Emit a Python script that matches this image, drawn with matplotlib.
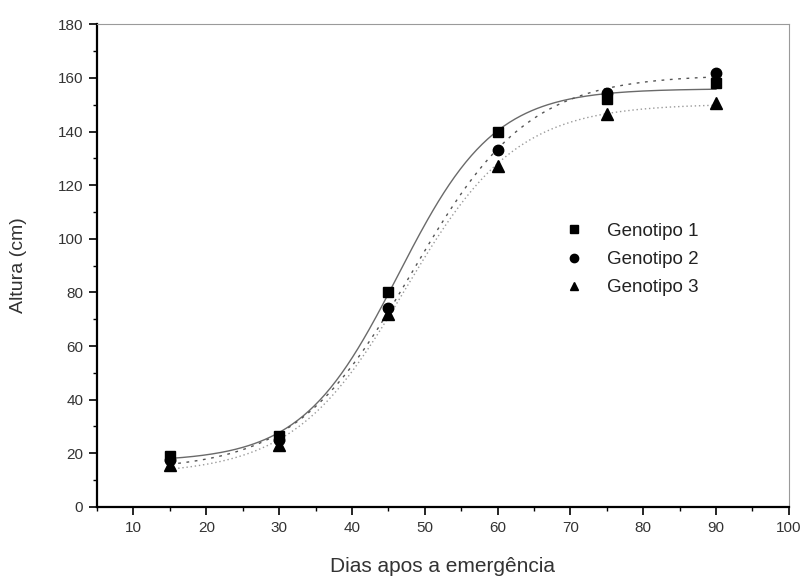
import numpy as np
import matplotlib
matplotlib.use("Agg")
import matplotlib.pyplot as plt
from matplotlib.ticker import MultipleLocator

plt.rcParams['font.family'] = ['Liberation Sans', 'DejaVu Sans']

# Days after emergence and plant height (cm) per genotype
dias = [15, 30, 45, 60, 75, 90]
genotipo_1 = [19.0, 26.5, 80.0, 140.0, 152.0, 158.0]
genotipo_2 = [17.5, 25.0, 74.0, 133.0, 154.5, 162.0]
genotipo_3 = [15.5, 23.0, 72.0, 127.0, 146.5, 150.5]
nomes = ["Genotipo 1", "Genotipo 2", "Genotipo 3"]


def boltzmann(x, p):
    a1, a2, x0, dx = p
    return a2 + (a1 - a2) / (1.0 + np.exp((x - x0) / dx))


def ajuste_boltzmann(x, y, p0, iters=400):
    """Levenberg-Marquardt fit of the Boltzmann sigmoid."""
    x = np.asarray(x, float)
    y = np.asarray(y, float)
    p = np.asarray(p0, float)
    lam = 1e-2
    def sse(q):
        return np.sum((boltzmann(x, q) - y) ** 2)
    cur = sse(p)
    for _ in range(iters):
        r = boltzmann(x, p) - y
        J = np.empty((x.size, 4))
        for k in range(4):
            h = 1e-6 * max(1.0, abs(p[k]))
            dp = p.copy()
            dp[k] += h
            J[:, k] = (boltzmann(x, dp) - boltzmann(x, p)) / h
        A = J.T @ J
        g = J.T @ r
        step = np.linalg.solve(A + lam * np.diag(np.diag(A) + 1e-9), -g)
        trial = p + step
        new = sse(trial)
        if new < cur:
            p, cur = trial, new
            lam *= 0.3
        else:
            lam *= 5.0
    return p


fig = plt.figure(figsize=(8.09, 5.78), dpi=100)
ax = fig.add_axes([0.120, 0.123, 0.855, 0.835])

x_fino = np.linspace(15, 90, 300)
estilos_linha = [
    dict(color="#6a6a6a", linestyle="-", linewidth=1.0),
    dict(color="#555555", linestyle=(0, (2, 4)), linewidth=1.0),
    dict(color="#9a9a9a", linestyle=(0, (1, 2)), linewidth=1.0),
]
marcadores = [("s", 7), ("o", 7.5), ("^", 8)]

series = [genotipo_1, genotipo_2, genotipo_3]
for y, nome, est, (mk, ms) in zip(series, nomes, estilos_linha, marcadores):
    p = ajuste_boltzmann(dias, y, [min(y), max(y), 47.0, 6.0])
    ax.plot(x_fino, boltzmann(x_fino, p), zorder=2, **est)
    ax.plot(dias, y, linestyle="none", marker=mk, markersize=ms,
            color="black", label=nome, zorder=3)

ax.set_xlim(5, 100)
ax.set_ylim(0, 180)
ax.xaxis.set_major_locator(MultipleLocator(10))
ax.xaxis.set_minor_locator(MultipleLocator(5))
ax.yaxis.set_major_locator(MultipleLocator(20))
ax.yaxis.set_minor_locator(MultipleLocator(10))
ax.set_xticks(np.arange(10, 101, 10))

for lado in ("left", "bottom"):
    ax.spines[lado].set_linewidth(1.6)
    ax.spines[lado].set_color("black")
for lado in ("top", "right"):
    ax.spines[lado].set_linewidth(0.8)
    ax.spines[lado].set_color("#9a9a9a")

ax.tick_params(which="major", direction="out", length=6, width=1.2,
               labelsize=11, labelcolor="#333333", pad=4)
ax.tick_params(which="minor", direction="out", length=3, width=1.0)

ax.set_xlabel("Dias apos a emergência", fontsize=15, color="#333333", labelpad=16)
ax.set_ylabel("Altura (cm)", fontsize=14, color="#333333", labelpad=22)

leg = ax.legend(loc="upper left", bbox_to_anchor=(0.651, 0.624), frameon=False,
                fontsize=13.5, handletextpad=1.3, labelspacing=0.6,
                handlelength=1.0, markerscale=0.8)
for t in leg.get_texts():
    t.set_color("#222222")

fig.savefig("out.png", dpi=100)
